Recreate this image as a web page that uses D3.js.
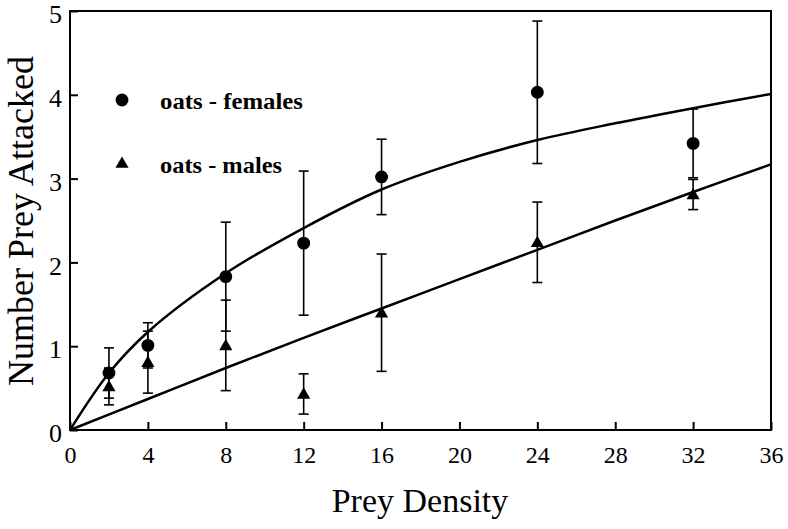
<!DOCTYPE html>
<html>
<head>
<meta charset="utf-8">
<script src="https://cdn.jsdelivr.net/npm/d3@7"></script>
<style>
	body { margin: 0; background: #fff; }
	svg { display: block; }
</style>
</head>
<body>
<div id="chart"></div>
<script>
// Prey density treatments
var densities = [2, 4, 8, 12, 16, 24, 32];
// Oats - females, mean and error
var femaleMean = [0.68, 1.01, 1.83, 2.23, 3.02, 4.03, 3.42];
var femaleErr = [0.30, 0.27, 0.65, 0.86, 0.45, 0.85, 0.41];
// Oats - males, mean and error
var maleMean = [0.52, 0.81, 1.01, 0.43, 1.40, 2.24, 2.81];
var maleErr = [0.22, 0.37, 0.54, 0.24, 0.70, 0.48, 0.18];
// Fitted curves
var femaleFitX = [0, 2, 4, 8, 12, 16, 20, 24, 28, 32, 36];
var femaleFitY = [0, 0.68, 1.17, 1.87, 2.41, 2.87, 3.20, 3.46, 3.66, 3.84, 4.01];
var maleFitX = [0, 4, 8, 12, 16, 20, 24, 28, 32, 36];
var maleFitY = [0, 0.37, 0.74, 1.10, 1.45, 1.80, 2.15, 2.50, 2.84, 3.17];
// Tick labels
var xTicks = [0, 4, 8, 12, 16, 20, 24, 28, 32, 36];
var yTicks = [0, 1, 2, 3, 4, 5];
// Legend labels
var legendLabels = ["oats - females", "oats - males"];

var width = 788;
var height = 529;
var serif = '"Liberation Serif", "Times New Roman", serif';

var svg = d3.select("#chart").append("svg")
	.attr("width", width)
	.attr("height", height);

var x = d3.scaleLinear().domain([0, 36]).range([70, 771]);
var y = d3.scaleLinear().domain([0, 5]).range([430, 11]);

// Frame around plot
svg.append("rect")
	.attr("x", x(0))
	.attr("y", y(5))
	.attr("width", x(36) - x(0))
	.attr("height", y(0) - y(5))
	.attr("fill", "none")
	.attr("stroke", "#000")
	.attr("stroke-width", 2);

// Axes with inward ticks
var xAxis = svg.append("g")
	.attr("transform", "translate(0," + y(0) + ")")
	.call(d3.axisBottom(x).tickValues(xTicks).tickFormat(d3.format("d"))
		.tickSizeInner(-8).tickSizeOuter(0).tickPadding(16));
xAxis.select(".domain").remove();
xAxis.selectAll("line").attr("stroke-width", 2);
xAxis.selectAll("text")
	.style("font-family", serif).style("font-size", "24px");

var yAxis = svg.append("g")
	.attr("transform", "translate(" + x(0) + ",0)")
	.call(d3.axisLeft(y).tickValues(yTicks).tickFormat(d3.format("d"))
		.tickSizeInner(-8).tickSizeOuter(0).tickPadding(8));
yAxis.select(".domain").remove();
yAxis.selectAll("line").attr("stroke-width", 2);
yAxis.selectAll("text")
	.style("font-family", serif).style("font-size", "26px")
	.attr("dy", "0.45em");

// Fitted lines
var line = d3.line()
	.x(function(d){ return x(d[0]); })
	.y(function(d){ return y(d[1]); })
	.curve(d3.curveCatmullRom.alpha(0.5));

svg.append("path")
	.datum(d3.zip(femaleFitX, femaleFitY))
	.attr("d", line)
	.attr("fill", "none")
	.attr("stroke", "#000")
	.attr("stroke-width", 2.5);

svg.append("path")
	.datum(d3.zip(maleFitX, maleFitY))
	.attr("d", line)
	.attr("fill", "none")
	.attr("stroke", "#000")
	.attr("stroke-width", 2.5);

// Error bars
function errorBars(means, errs) {
	var g = svg.append("g");
	densities.forEach(function(d, i){
		var lo = means[i] - errs[i], hi = means[i] + errs[i];
		g.append("line")
			.attr("x1", x(d)).attr("x2", x(d))
			.attr("y1", y(lo)).attr("y2", y(hi))
			.attr("stroke", "#000").attr("stroke-width", 1.6);
		[lo, hi].forEach(function(v){
			g.append("line")
				.attr("x1", x(d) - 5).attr("x2", x(d) + 5)
				.attr("y1", y(v)).attr("y2", y(v))
				.attr("stroke", "#000").attr("stroke-width", 1.6);
		});
	});
}
errorBars(femaleMean, femaleErr);
errorBars(maleMean, maleErr);

// Points
var circleSym = d3.symbol().type(d3.symbolCircle).size(130);
var triSym = d3.symbol().type(d3.symbolTriangle).size(75);

svg.append("g").selectAll("path")
	.data(densities)
	.enter().append("path")
	.attr("d", circleSym)
	.attr("transform", function(d, i){ return "translate(" + x(d) + "," + y(femaleMean[i]) + ")"; })
	.attr("fill", "#000");

svg.append("g").selectAll("path")
	.data(densities)
	.enter().append("path")
	.attr("d", triSym)
	.attr("transform", function(d, i){ return "translate(" + x(d) + "," + (y(maleMean[i]) + 1) + ")"; })
	.attr("fill", "#000");

// Legend
var legend = svg.append("g");
legend.append("path")
	.attr("d", circleSym)
	.attr("transform", "translate(122,100)")
	.attr("fill", "#000");
legend.append("path")
	.attr("d", triSym)
	.attr("transform", "translate(122,164)")
	.attr("fill", "#000");
legend.append("text")
	.attr("x", 160).attr("y", 109)
	.attr("textLength", 143).attr("lengthAdjust", "spacingAndGlyphs")
	.style("font-family", serif).style("font-size", "23px").style("font-weight", "bold")
	.text(legendLabels[0]);
legend.append("text")
	.attr("x", 160).attr("y", 173)
	.attr("textLength", 122).attr("lengthAdjust", "spacingAndGlyphs")
	.style("font-family", serif).style("font-size", "23px").style("font-weight", "bold")
	.text(legendLabels[1]);

// Axis titles
svg.append("text")
	.attr("x", 420).attr("y", 512)
	.attr("text-anchor", "middle")
	.style("font-family", serif).style("font-size", "34px")
	.text("Prey Density");

svg.append("text")
	.attr("transform", "translate(33,221) rotate(-90)")
	.attr("text-anchor", "middle")
	.style("font-family", serif).style("font-size", "36px")
	.text("Number Prey Attacked");
</script>
</body>
</html>
